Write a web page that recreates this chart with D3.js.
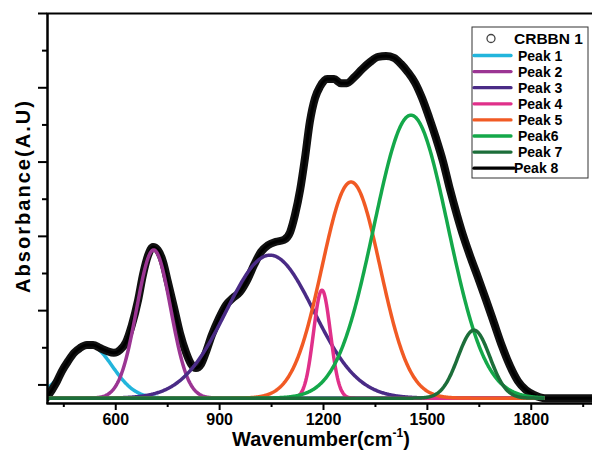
<!DOCTYPE html>
<html><head><meta charset="utf-8">
<script src="https://cdn.jsdelivr.net/npm/d3@7"></script>
<style>body{margin:0;background:#fff;} svg{display:block;font-family:Arial,"Liberation Sans",sans-serif;}</style>
</head><body>
<svg id="c" width="592" height="450"></svg>
<script>
// ---- data ----
const wavenumber = [403,417,432,446,464,481,498,518,536,556,576,596,614,631,648,666,680,695,709,723,738,752,770,787,804,819,833,848,862,879,900,920,940,960,981,1001,1021,1041,1064,1087,1105,1119,1134,1148,1162,1177,1191,1212,1232,1252,1269,1290,1313,1336,1359,1382,1405,1425,1445,1466,1486,1506,1526,1547,1567,1587,1607,1627,1648,1671,1694,1717,1740,1763,1786,1809,1841,2000];
const absorbance = [-0.034,-0.015,0.009,0.036,0.063,0.085,0.098,0.106,0.106,0.098,0.090,0.085,0.093,0.114,0.160,0.227,0.295,0.348,0.370,0.362,0.330,0.276,0.206,0.138,0.087,0.055,0.044,0.055,0.087,0.133,0.179,0.214,0.233,0.249,0.281,0.322,0.357,0.375,0.384,0.389,0.410,0.456,0.524,0.610,0.707,0.771,0.801,0.822,0.822,0.811,0.811,0.827,0.849,0.868,0.882,0.884,0.879,0.863,0.841,0.812,0.771,0.720,0.664,0.599,0.524,0.456,0.394,0.340,0.287,0.227,0.165,0.103,0.050,0.009,-0.015,-0.028,-0.037,-0.037];
const seriesName = "CRBBN 1";
const peakNames   = ["Peak 1","Peak 2","Peak 3","Peak 4","Peak 5","Peak6","Peak 7"];
const peakCenters = [525, 711, 1047, 1197, 1281, 1454, 1636];
const peakHeights = [0.143, 0.399, 0.385, 0.291, 0.582, 0.762, 0.183];
const peakSigmas  = [66, 49, 127, 24.5, 84, 107, 46];
const fitName = "Peak 8";
const baseline = -0.037;
const fitRange = [400, 1840];
const xMajorTicks = [600, 900, 1200, 1500, 1800];
const xMinorTicks = [450, 750, 1050, 1350, 1650, 1950];
const yMajorTicks = [0, 0.2, 0.4, 0.6, 0.8, 1.0];
const yMinorTicks = [0.1, 0.3, 0.5, 0.7, 0.9];

// ---- styles ----
const peakColors = ["#22b5dc","#9b3593","#4a2b86","#e0308a","#f15a24","#14a84a","#1c6e3a"];
const FONT = 'Arial,"Liberation Sans",sans-serif';

const svg = d3.select("#c");
const x = d3.scaleLinear().domain([400, 2000]).range([46, 600]);
const y = d3.scaleLinear().domain([-0.05, 1.0]).range([403, 13]);

svg.append("defs").append("clipPath").attr("id","clip")
  .append("rect").attr("x",47).attr("y",13).attr("width",560).attr("height",390);

const plot = svg.append("g").attr("clip-path","url(#clip)");

const grid = d3.range(fitRange[0], fitRange[1]+0.1, 2);
const peakLine = d3.line().x(d=>x(d[0])).y(d=>y(d[1]));
function drawPeak(i){
  const c = peakCenters[i];
  const pts = grid.map(w=>[w, baseline + peakHeights[i]*Math.exp(-((w-c)**2)/(2*peakSigmas[i]**2))]);
  plot.append("path").datum(pts).attr("d", peakLine)
    .attr("fill","none").attr("stroke",peakColors[i]).attr("stroke-width",3.5)
    .attr("stroke-linejoin","round");
}

// first component sits beneath the data band
drawPeak(0);

// data band (dense open circles look like a thick band)
const dataPts = wavenumber.map((w,i)=>[w, absorbance[i]]);
const line = d3.line().x(d=>x(d[0])).y(d=>y(d[1])).curve(d3.curveMonotoneX);
plot.append("path").datum(dataPts).attr("d",line)
  .attr("fill","none").attr("stroke","#111").attr("stroke-width",8)
  .attr("stroke-linejoin","round").attr("stroke-linecap","round");
plot.append("path").datum(dataPts).attr("d",line)
  .attr("fill","none").attr("stroke","#8a8a8a").attr("stroke-width",1)
  .attr("stroke-dasharray","1 3").attr("opacity",0.45);
// fit (Peak 8)
plot.append("path").datum(dataPts).attr("d",line)
  .attr("fill","none").attr("stroke","#000").attr("stroke-width",3);

// remaining fitted gaussian components
for (let i = 1; i < peakCenters.length; i++) drawPeak(i);

// axes
function styleAxis(g){
  g.selectAll(".domain").attr("stroke","#000").attr("stroke-width",2);
  g.selectAll(".tick line").attr("stroke","#000").attr("stroke-width",2);
  g.selectAll("text").attr("font-family",FONT).attr("font-weight","bold")
   .attr("font-size","16px").attr("fill","#000");
}
const xAxis = svg.append("g").attr("transform","translate(0,403)")
  .call(d3.axisBottom(x).tickValues(xMajorTicks).tickSize(7).tickSizeOuter(0).tickPadding(4).tickFormat(d3.format("d")));
styleAxis(xAxis);
const xMinor = svg.append("g").attr("transform","translate(0,403)")
  .call(d3.axisBottom(x).tickValues(xMinorTicks).tickSize(4).tickSizeOuter(0).tickFormat(""));
styleAxis(xMinor);
const xTop = svg.append("g").attr("transform","translate(0,13)")
  .call(d3.axisTop(x).tickValues([]).tickSizeOuter(0));
styleAxis(xTop);

const yAxis = svg.append("g").attr("transform","translate(47,0)")
  .call(d3.axisLeft(y).tickValues(yMajorTicks).tickSize(9).tickSizeOuter(0).tickFormat(""));
styleAxis(yAxis);
const yMinor = svg.append("g").attr("transform","translate(47,0)")
  .call(d3.axisLeft(y).tickValues(yMinorTicks).tickSize(5).tickSizeOuter(0).tickFormat(""));
styleAxis(yMinor);

// axis titles
const xt = svg.append("text").attr("x",321).attr("y",446).attr("text-anchor","middle")
  .attr("font-family",FONT).attr("font-weight","bold").attr("font-size","20px");
xt.append("tspan").text("Wavenumber(cm");
xt.append("tspan").attr("font-size","12px").attr("dy",-9).text("-1");
xt.append("tspan").attr("font-size","20px").attr("dy",9).text(")");

svg.append("text").attr("transform","translate(30,197) rotate(-90)")
  .attr("text-anchor","middle").attr("font-family",FONT).attr("font-weight","bold")
  .attr("font-size","20px").attr("textLength",192).attr("lengthAdjust","spacing")
  .text("Absorbance(A.U)");

// legend
const lg = svg.append("g");
lg.append("rect").attr("x",472).attr("y",27).attr("width",116).attr("height",151)
  .attr("fill","#fff").attr("stroke","#333").attr("stroke-width",1);
lg.append("circle").attr("cx",491).attr("cy",38.5).attr("r",4)
  .attr("fill","none").attr("stroke","#444").attr("stroke-width",1.3);
lg.append("text").attr("x",514).attr("y",44).attr("font-family",FONT).attr("font-weight","bold")
  .attr("font-size","15.5px").text(seriesName);
const legendItems = peakNames.map((n,i)=>({name:n,color:peakColors[i]})).concat([{name:fitName,color:"#000"}]);
legendItems.forEach((d,i)=>{
  const cy = 55.5 + i*16.1;
  const last = i === legendItems.length-1;
  lg.append("line").attr("x1",474).attr("x2", last?514:511).attr("y1",cy).attr("y2",cy)
    .attr("stroke",d.color).attr("stroke-width",3.3).attr("stroke-linecap","round");
  lg.append("text").attr("x", last?514:518).attr("y",cy+5).attr("font-family",FONT)
    .attr("font-weight","bold").attr("font-size","14px").text(d.name);
});
</script>
</body></html>
